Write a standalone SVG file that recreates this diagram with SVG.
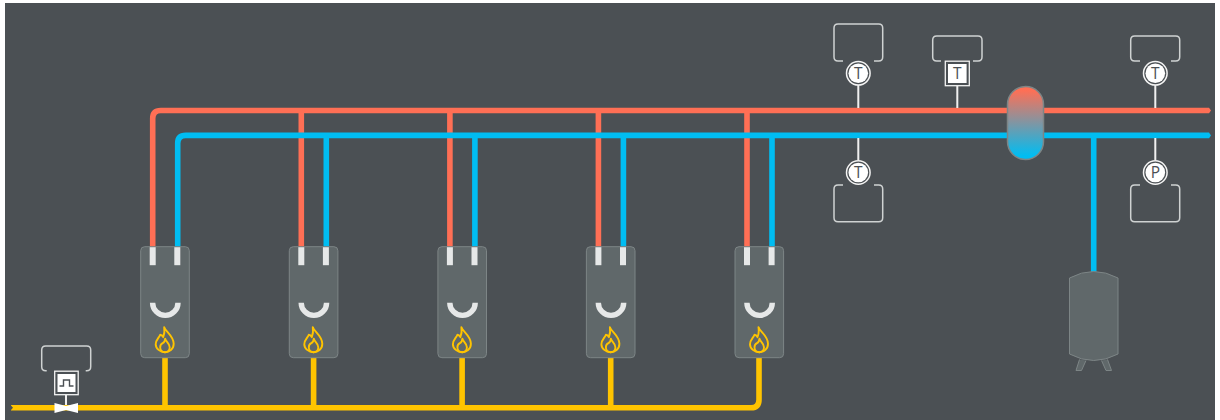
<svg xmlns="http://www.w3.org/2000/svg" width="1220" height="420" viewBox="0 0 1220 420">
<style>
.pipe{fill:none;stroke-width:5.6}
.red{stroke:#ff6f55}.blue{stroke:#00bdf2}.gas{stroke:#ffc400}
.body{fill:#60686a;stroke:#7d8586;stroke-width:1}
.stub{fill:#e6e8e8}
.smile{fill:none;stroke:#e6e8e8;stroke-width:5.4}
.flame{fill:none;stroke:#ffc400;stroke-width:1.9;stroke-linejoin:round}
.tag{fill:none;stroke:#cfd2d2;stroke-width:1.5}
.stem{stroke:#f0f0f0;stroke-width:2;fill:none}
.ring{fill:#4b5054;stroke:#f4f4f4;stroke-width:1.5}
.face{fill:#fff}
.lab{font-family:"Open Sans","Liberation Sans",sans-serif;font-size:15.5px;font-weight:500;fill:#4b5054;text-anchor:middle}
</style>
<defs>
<linearGradient id="sep" x1="0" y1="0" x2="0" y2="1"><stop offset="0.05" stop-color="#ff6f55"/><stop offset="0.95" stop-color="#00bdf2"/></linearGradient>
<g id="boiler">
<rect class="body" x="0" y="0" width="48.6" height="111" rx="4"/>
<rect class="stub" x="9" y="0.5" width="6" height="18"/>
<rect class="stub" x="33.6" y="0.5" width="6" height="18"/>
<path class="smile" d="M11.9 56A12.7 12.7 0 0 0 37.300 56"/>
<path class="flame" d="M23.5 80.500C25 85 33 89 33 97C33 102.500 28.500 105.500 24.300 105.500C19.500 105.500 15 102 15 97.500C15 93 18.500 91 19.500 88C21.500 88 22 89.500 22.500 90.500C24 87 24 84 23.500 80.500Z"/>
<path class="flame" d="M24.500 92C25 95 29 96.500 29 100.500C29 103.500 27 105.500 24.300 105.500C21.500 105.500 19.500 103.500 19.500 100.500C19.500 98.500 21 97 22 96.500C23 96 24.300 94.500 24.500 92Z"/>
</g>
</defs>
<rect x="0" y="0" width="1220" height="420" fill="#fff"/>
<rect x="5" y="3" width="1210" height="417" fill="#4b5054"/>
<g id="connectors">
<path class="pipe red" d="M152.700 247V118.500Q152.700 110.500 160.700 110.500H1208"/>
<path class="pipe red" d="M301.300 110.500V247M449.900 110.500V247M598.400 110.500V247M747 110.500V247"/>
<path class="pipe blue" d="M177.700 247V143.400Q177.700 135.400 185.700 135.400H1208"/>
<path class="pipe blue" d="M326.300 135.400V247M474.900 135.400V247M623.400 135.400V247M772 135.400V247M1093.700 135.400V272"/>
<path d="M1208 107.700H1209L1211 110.500L1209 113.300H1208Z" fill="#ff6f55"/>
<path d="M1208 132.600H1209L1211 135.400L1209 138.200H1208Z" fill="#00bdf2"/>
<path class="pipe gas" d="M11 407.800H751Q759 407.800 759 399.800V358M165 407.800V358M313.600 407.800V358M462.100 407.800V358M610.700 407.800V358"/>
<path d="M10.500 405L13 407.800L10.500 410.600Z" fill="#4b5054"/>
<path class="stem" d="M858.300 85V108M957.300 86V108M1155.300 85V108M858.300 138V160M1155.300 138V160M66 395V405"/>
</g>
<g id="boiler-1"><use href="#boiler" x="140.700" y="246.700"/></g>
<g id="boiler-2"><use href="#boiler" x="289.300" y="246.700"/></g>
<g id="boiler-3"><use href="#boiler" x="437.900" y="246.700"/></g>
<g id="boiler-4"><use href="#boiler" x="586.400" y="246.700"/></g>
<g id="boiler-5"><use href="#boiler" x="735" y="246.700"/></g>
<g id="separator"><rect x="1007.500" y="86.500" width="36" height="73" rx="18" fill="url(#sep)" stroke="#7d8586" stroke-width="1.500"/></g>
<g id="tank"><path class="body" d="M1069.500 278Q1093.700 265 1118 278V354Q1093.700 367 1069.500 354Z"/>
<path class="body" d="M1079.500 359.500L1076 370.500H1081.500L1086 360.500M1101.500 360.500L1106 370.500H1111.500L1107.500 359.500"/></g>
<g id="gas-valve">
<path d="M54.500 403L66 406L78 403V413L66 410L54.500 413Z" fill="#fff"/>
<path class="tag" d="M46.700 370.800H45.700Q41.700 370.800 41.700 366.800V350Q41.700 346 45.700 346H86.700Q90.700 346 90.700 350V366.800Q90.700 370.800 86.700 370.800H85.700"/>
<rect x="54.700" y="371.200" width="23.500" height="23.500" fill="#4b5054" stroke="#f4f4f4" stroke-width="1.300"/>
<rect class="face" x="57.500" y="374" width="18" height="18"/>
<path d="M59.500 386H63.500V380H69.500V386H73.500" fill="none" stroke="#4b5054" stroke-width="1.400"/>
</g>
<g id="sensor-t1"><path class="tag" d="M843 61H838Q834 61 834 57V28Q834 24 838 24H878.700Q882.700 24 882.700 28V57Q882.700 61 878.700 61H874"/>
<circle class="ring" cx="858.300" cy="73.300" r="11.800"/><circle class="face" cx="858.300" cy="73.300" r="9.800"/><text class="lab" x="858.300" y="78.800">T</text></g>
<g id="sensor-t2"><path class="tag" d="M941 61H936.700Q932.700 61 932.700 57V40Q932.700 36 936.700 36H978Q982 36 982 40V57Q982 61 978 61H973"/>
<rect x="945.300" y="61.200" width="24" height="24.500" fill="#4b5054" stroke="#f4f4f4" stroke-width="1.300"/><rect class="face" x="948" y="64" width="18.600" height="19"/><text class="lab" x="957.300" y="79">T</text></g>
<g id="sensor-t3"><path class="tag" d="M1140 61H1134.700Q1130.700 61 1130.700 57V40Q1130.700 36 1134.700 36H1175.700Q1179.700 36 1179.700 40V57Q1179.700 61 1175.700 61H1171"/>
<circle class="ring" cx="1155.300" cy="73.300" r="11.800"/><circle class="face" cx="1155.300" cy="73.300" r="9.800"/><text class="lab" x="1155.300" y="78.800">T</text></g>
<g id="sensor-t4"><path class="tag" d="M843 185H838Q834 185 834 189V217.700Q834 221.700 838 221.700H878.700Q882.700 221.700 882.700 217.700V189Q882.700 185 878.700 185H874"/>
<circle class="ring" cx="858.300" cy="172.500" r="11.800"/><circle class="face" cx="858.300" cy="172.500" r="9.800"/><text class="lab" x="858.300" y="178">T</text></g>
<g id="sensor-p"><path class="tag" d="M1140 185H1134.700Q1130.700 185 1130.700 189V217.700Q1130.700 221.700 1134.700 221.700H1175.700Q1179.700 221.700 1179.700 217.700V189Q1179.700 185 1175.700 185H1171"/>
<circle class="ring" cx="1155.300" cy="172.500" r="11.800"/><circle class="face" cx="1155.300" cy="172.500" r="9.800"/><text class="lab" x="1155.300" y="178">P</text></g>
</svg>
